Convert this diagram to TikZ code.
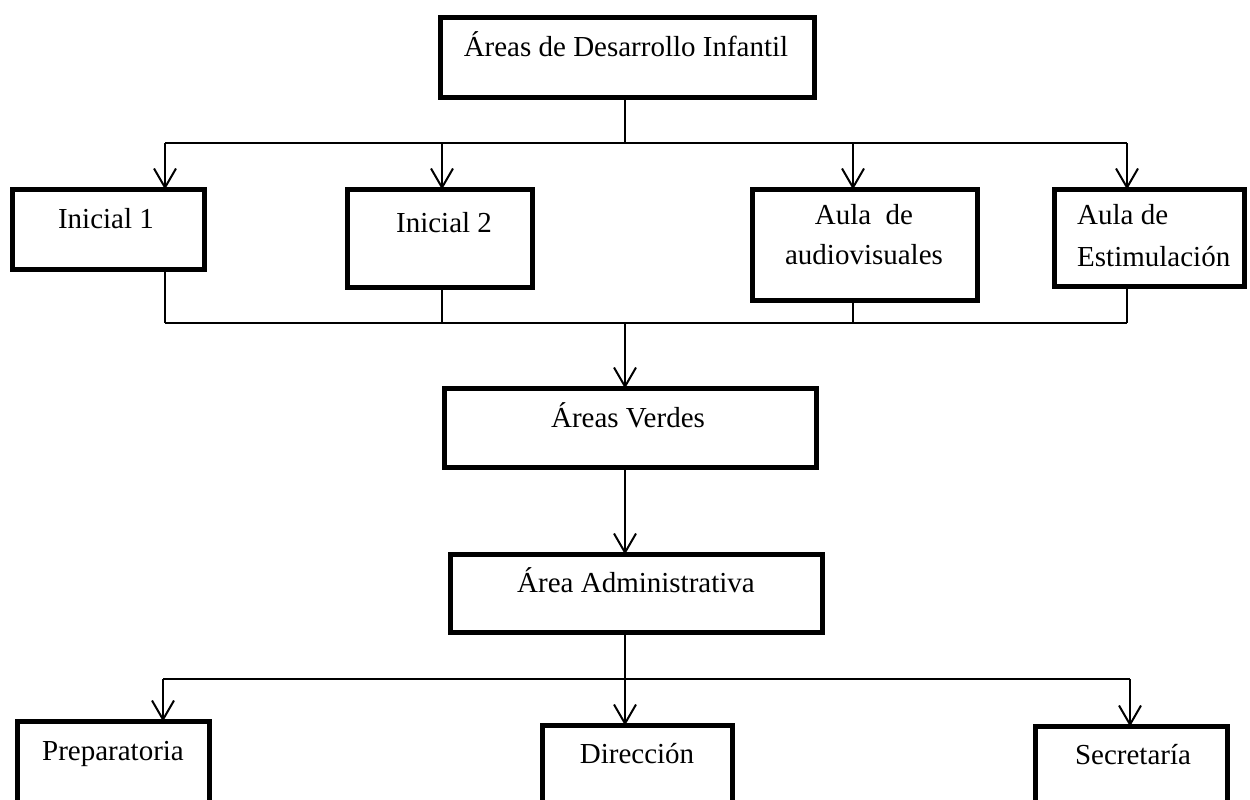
\documentclass[tikz,border=0pt]{standalone}
\usepackage{fontspec}
\setmainfont{Liberation Serif}
\usetikzlibrary{arrows.meta}
\begin{document}
\begin{tikzpicture}[x=1pt,y=-1pt,
  box/.style={draw, line width=5pt, inner sep=0pt, outer sep=0pt},
  conn/.style={line width=2pt},
  arr/.style={line width=2pt, -{Straight Barb[length=19pt,width=22pt,line width=2pt]}},
  lbl/.style={anchor=base, inner sep=0pt, font=\fontsize{29}{41}\selectfont}]
\useasboundingbox (0,0) rectangle (1250,800);
\clip (0,0) rectangle (1250,800);
\fill[white] (0,0) rectangle (1250,800);
% boxes
\node[box, minimum width=374pt, minimum height=80pt] (top) at (627.5,57.5) {};
\node[box, minimum width=192pt, minimum height=80pt] (ini1) at (108.5,229.5) {};
\node[box, minimum width=185pt, minimum height=98pt] (ini2) at (440,238.5) {};
\node[box, minimum width=225pt, minimum height=111pt] (aud) at (865,245) {};
\node[box, minimum width=190pt, minimum height=97pt] (est) at (1149.5,238) {};
\node[box, minimum width=372pt, minimum height=79pt] (verdes) at (630.5,428) {};
\node[box, minimum width=372pt, minimum height=78pt] (admin) at (636.5,593.5) {};
\node[box, minimum width=192pt, minimum height=126pt] (prep) at (113.5,784.5) {};
\node[box, minimum width=190pt, minimum height=122pt] (dir) at (637.5,786.5) {};
\node[box, minimum width=192pt, minimum height=121pt] (sec) at (1131.5,787) {};
% labels
\node[lbl] (ttop) at (626,57) {Áreas de Desarrollo Infantil};
\node[lbl] (tini1) at (106,228) {Inicial 1};
\node[lbl] (tini2) at (444,232) {Inicial 2};
\node[lbl] (taud) at (864,224) {\begin{tabular}[t]{@{}c@{}}Aula\ \ de\\[-1pt] audiovisuales\end{tabular}};
\node[lbl, anchor=base west] (test) at (1077,224) {\begin{tabular}[t]{@{}l@{}}Aula de\\[1pt] Estimulación\end{tabular}};
\node[lbl] (tverdes) at (628,427) {Áreas Verdes};
\node[lbl] (tadmin) at (636,592) {Área Administrativa};
\node[lbl] (tprep) at (113,760) {Preparatoria};
\node[lbl] (tdir) at (637,763) {Dirección};
\node[lbl] (tsec) at (1133,764) {Secretaría};
% junction coordinates
\coordinate (j0) at (625,143);
\coordinate (a1) at (165,143);
\coordinate (a2) at (442,143);
\coordinate (a3) at (853,143);
\coordinate (a4) at (1127,143);
\coordinate (b1) at (165,323);
\coordinate (b2) at (442,323);
\coordinate (b3) at (853,323);
\coordinate (b4) at (1127,323);
\coordinate (bm) at (625,323);
\coordinate (c1) at (163,679);
\coordinate (c3) at (1130,679);
% connectors
\draw[conn] (j0 |- top.south) -- (j0);
\draw[conn] (a1) -- (a4);
\draw[arr] (a1) -- (a1 |- ini1.north);
\draw[arr] (a2) -- (a2 |- ini2.north);
\draw[arr] (a3) -- (a3 |- aud.north);
\draw[arr] (a4) -- (a4 |- est.north);
\draw[conn] (b1 |- ini1.south) -- (b1);
\draw[conn] (b2 |- ini2.south) -- (b2);
\draw[conn] (b3 |- aud.south) -- (b3);
\draw[conn] (b4 |- est.south) -- (b4);
\draw[conn] (b1) -- (b4);
\draw[arr] (bm) -- (bm |- verdes.north);
\draw[arr] (bm |- verdes.south) -- (bm |- admin.north);
\draw[arr] (bm |- admin.south) -- (bm |- dir.north);
\draw[conn] (c1) -- (c3);
\draw[arr] (c1) -- (c1 |- prep.north);
\draw[arr] (c3) -- (c3 |- sec.north);
\end{tikzpicture}
\end{document}
